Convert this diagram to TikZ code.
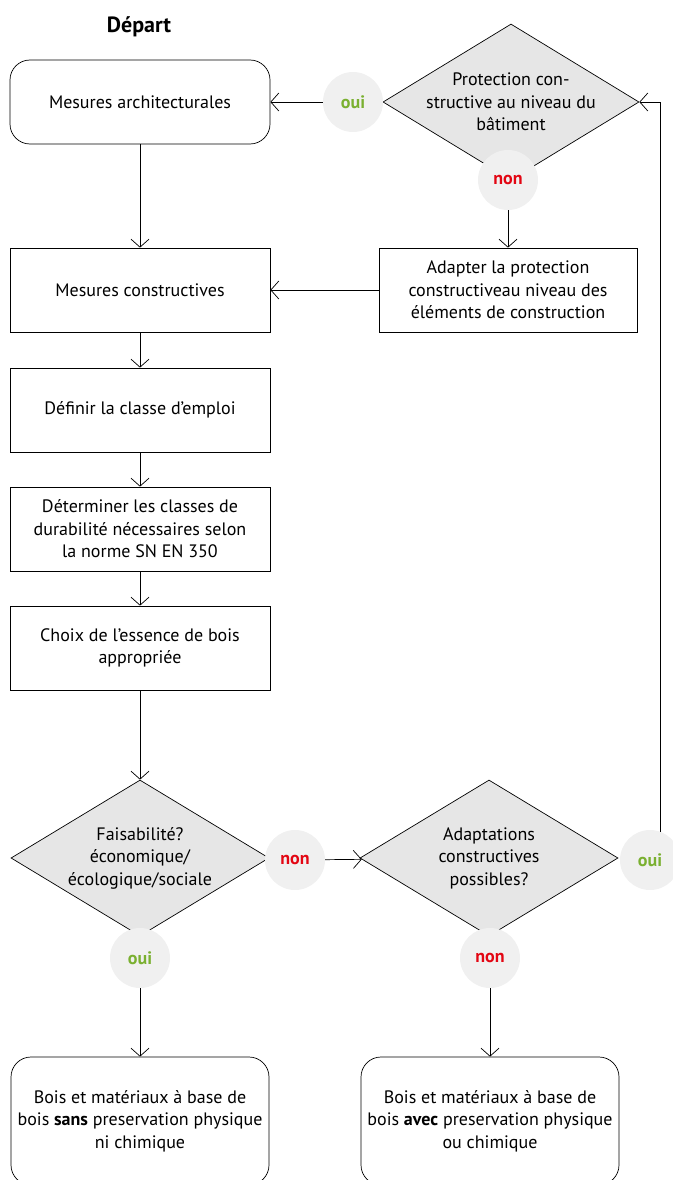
\documentclass[tikz,border=0pt]{standalone}
\usepackage{fontspec}
\setmainfont{PT Sans}
\usetikzlibrary{shapes.geometric,arrows.meta}
\definecolor{ouigreen}{HTML}{7AB030}
\definecolor{nonred}{HTML}{E30613}
\definecolor{choicegray}{HTML}{E6E6E6}
\definecolor{answergray}{HTML}{F0F0F0}
\tikzset{
	every node/.style={font=\fontsize{18}{22.5}\selectfont},
	stepbox/.style={draw, line width=0.7pt, minimum width=260pt, minimum height=84pt, align=center, inner sep=0pt},
	roundbox/.style={stepbox, rounded corners=20pt},
	choice/.style={draw, line width=0.7pt, diamond, fill=choicegray, aspect=1.63, minimum width=256pt, minimum height=156pt, inner sep=-25pt, align=center},
	answer/.style={circle, fill=answergray, minimum size=60pt, inner sep=0pt, font=\fontsize{18}{20}\selectfont\bfseries},
	flow/.style={line width=0.7pt, -{Straight Barb[length=8pt,width=18pt]}}
}
\begin{document}
\begin{tikzpicture}[x=1pt,y=-1pt]
	\useasboundingbox (0,0) rectangle (672,1180);
	\node[font=\fontsize{22}{26}\selectfont\bfseries] (start) at (139,27) {Départ};
	\node[roundbox] (archi) at (140,102) {Mesures architecturales};
	\node[choice] (prot) at (511,102) {Protection con-\\structive au niveau du\\bâtiment};
	\node[stepbox, minimum width=258pt] (adapt) at (508,290) {Adapter la protection\\constructiveau niveau des\\éléments de construction};
	\node[stepbox] (constr) at (140,290) {Mesures constructives};
	\node[stepbox] (classe) at (140,410) {Définir la classe d’emploi};
	\node[stepbox] (durab) at (140,529) {Déterminer les classes de\\durabilité nécessaires selon\\la norme SN EN 350};
	\node[stepbox] (essence) at (140,648) {Choix de l’essence de bois\\appropriée};
	\node[choice, minimum width=258pt] (faisab) at (140,858) {Faisabilité?\\économique/\\écologique/sociale};
	\node[choice, minimum width=258pt] (possib) at (489,858) {Adaptations\\constructives\\possibles?};
	\node[roundbox, minimum width=258pt, minimum height=128pt] (sans) at (140,1121) {Bois et matériaux à base de\\bois \textbf{sans} preservation physique\\ni chimique};
	\node[roundbox, minimum width=258pt, minimum height=128pt] (avec) at (490,1121) {Bois et matériaux à base de\\bois \textbf{avec} preservation physique\\ou chimique};

	\node[answer, text=ouigreen] (oui1) at (353,102) {oui};
	\node[answer, text=nonred] (non1) at (508,180) {non};
	\node[answer, text=nonred] (non2) at (295,860) {non};
	\node[answer, text=ouigreen] (oui2) at (140,958) {oui};
	\node[answer, text=ouigreen] (oui3) at (650,860) {oui};
	\node[answer, text=nonred] (non3) at (490,958) {non};

	\draw[flow] (oui1) -- (archi);
	\draw[flow] (non1) -- (adapt);
	\draw[flow] (adapt) -- (constr);
	\draw[flow] (archi) -- (constr);
	\draw[flow] (constr) -- (classe);
	\draw[flow] (classe) -- (durab);
	\draw[flow] (durab) -- (essence);
	\draw[flow] (essence) -- (faisab);
	\draw[flow] (non2) -- (possib);
	\draw[flow] (oui2) -- (sans);
	\draw[flow] (non3) -- (avec);
	\draw[flow] (oui3.70) |- (prot.east);
\end{tikzpicture}
\end{document}
